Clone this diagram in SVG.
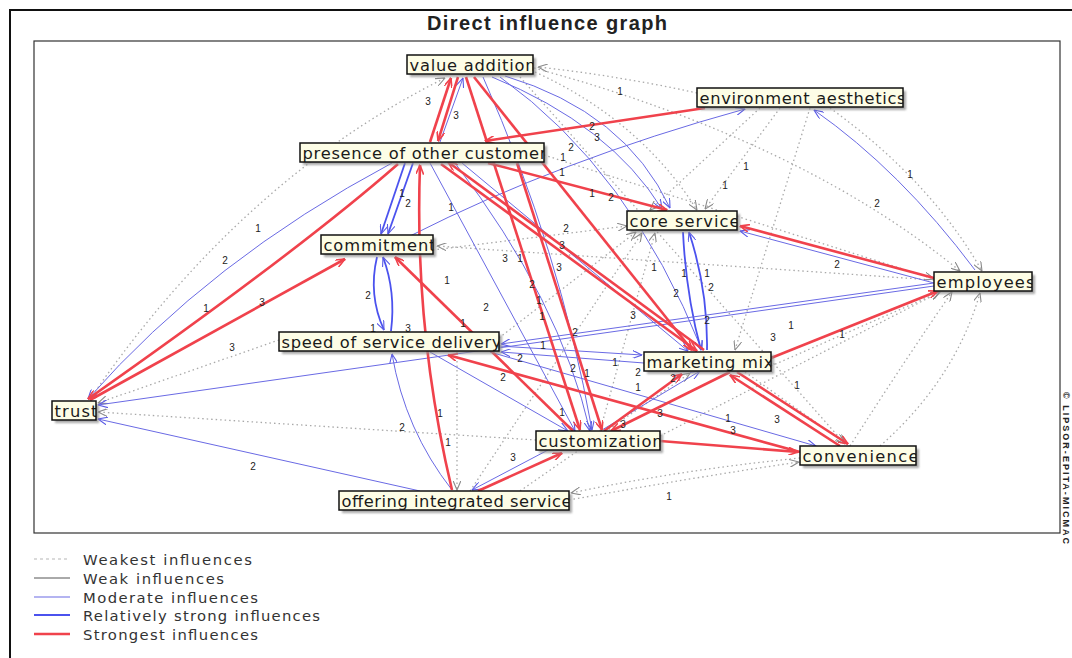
<svg xmlns="http://www.w3.org/2000/svg" width="1072" height="658" viewBox="0 0 1072 658">
<style>
  text { font-family: "Liberation Sans", Arial, sans-serif; }
  .title { font-size: 20px; font-weight: bold; fill: #222; }
  .r { fill: none; stroke: #f0424c; stroke-width: 2.6; marker-end: url(#ar); }
  .b { fill: none; stroke: #6a6ae4; stroke-width: 1; marker-end: url(#ab); }
  .bs { fill: none; stroke: #4b52ee; stroke-width: 1.8; marker-end: url(#ab); }
  .d { fill: none; stroke: #a9a9a9; stroke-width: 1.3; stroke-dasharray: 1.5 3; marker-end: url(#ag); }
  .lbl { font-size: 10px; fill: #222; text-anchor: middle; }
  .nb { fill: #fdfde6; }
  .nf { fill: none; stroke: #111; stroke-width: 1.5; }
  .sh { fill: #8c8c8c; opacity: 0.75; filter: url(#blur); }
  .nt { font-family: "DejaVu Sans", Verdana, sans-serif; font-size: 16.3px; fill: #1a1a1a; }
  .lg { font-family: "DejaVu Sans", Verdana, sans-serif; font-size: 14.8px; fill: #333; }
</style>
<defs>
  <marker id="ar" viewBox="0 0 10 8" refX="9.5" refY="4" markerWidth="10" markerHeight="8" markerUnits="userSpaceOnUse" orient="auto">
    <path d="M0,0 L9.5,4 L0,8" fill="none" stroke="#f0424c" stroke-width="1.6"/>
  </marker>
  <marker id="ab" viewBox="0 0 10 8" refX="9.5" refY="4" markerWidth="10" markerHeight="8" markerUnits="userSpaceOnUse" orient="auto">
    <path d="M0,0 L9.5,4 L0,8" fill="none" stroke="#5a5ae6" stroke-width="1.1"/>
  </marker>
  <marker id="ag" viewBox="0 0 10 8" refX="9.5" refY="4" markerWidth="10" markerHeight="8" markerUnits="userSpaceOnUse" orient="auto">
    <path d="M0,0 L9.5,4 L0,8" fill="none" stroke="#8a8a8a" stroke-width="1.1"/>
  </marker>
  <filter id="blur" x="-20%" y="-50%" width="140%" height="200%">
    <feGaussianBlur stdDeviation="1.3"/>
  </filter>
</defs>

<rect width="1072" height="658" fill="#fff"/>
<!-- outer frame and plot area -->
<rect x="10" y="10" width="1090" height="700" fill="none" stroke="#111" stroke-width="2"/>
<text class="title" x="427" y="30" textLength="240">Direct influence graph</text>
<rect x="34" y="41" width="1026" height="492" fill="none" stroke="#333" stroke-width="1.2"/>

<g id="connectors">
  <!-- weakest influences -->
  <path class="d" d="M697,93 Q620,76 538,67"/>
  <path class="d" d="M535,72 Q640,120 697,210"/>
  <path class="d" d="M534,68 Q800,140 960,271"/>
  <path class="d" d="M780,108 L705,209"/>
  <path class="d" d="M760,108 L650,210"/>
  <path class="d" d="M810,108 L735,350"/>
  <path class="d" d="M830,108 Q930,180 982,271"/>
  <path class="d" d="M90,399 Q240,180 445,78"/>
  <path class="d" d="M536,440 L98,412"/>
  <path class="d" d="M279,340 L98,403"/>
  <path class="d" d="M569,500 Q690,478 799,462"/>
  <path class="d" d="M800,458 Q680,470 571,493"/>
  <path class="d" d="M880,446 Q955,380 980,293"/>
  <path class="d" d="M850,446 Q905,360 952,292"/>
  <path class="d" d="M771,366 L940,292"/>
  <path class="d" d="M934,280 L437,246"/>
  <path class="d" d="M600,431 L655,233"/>
  <path class="d" d="M470,491 L642,233"/>
  <path class="d" d="M499,338 L636,232"/>
  <path class="d" d="M745,372 L845,443"/>
  <path class="d" d="M457,352 L457,490"/>
  <path class="d" d="M544,155 L934,279"/>
  <path class="d" d="M520,77 L845,444"/>
  <path class="d" d="M433,250 L627,226"/>
  <path class="d" d="M520,491 L690,373"/>
  <path class="d" d="M660,436 L940,292"/>

  <!-- moderate and relatively strong influences -->
  <path class="b" d="M440,142 L463,78"/>
  <path class="b" d="M492,77 Q610,125 662,209"/>
  <path class="b" d="M505,76 Q625,112 670,208"/>
  <path class="b" d="M500,77 Q630,170 702,350"/>
  <path class="b" d="M483,77 Q560,250 592,430"/>
  <path class="b" d="M410,236 Q560,160 745,109"/>
  <path class="b" d="M975,270 Q900,170 814,110"/>
  <path class="bs" d="M683,232 Q686,295 701,350"/>
  <path class="bs" d="M707,350 Q708,290 689,232"/>
  <path class="b" d="M934,283 L740,231"/>
  <path class="b" d="M934,283 L501,344"/>
  <path class="b" d="M934,286 L98,405"/>
  <path class="b" d="M499,346 L642,355"/>
  <path class="b" d="M644,363 L501,352"/>
  <path class="b" d="M490,352 L816,446"/>
  <path class="b" d="M430,352 L568,431"/>
  <path class="b" d="M452,490 Q405,430 392,354"/>
  <path class="b" d="M420,491 L98,419"/>
  <path class="b" d="M548,450 L472,490"/>
  <path class="bs" d="M377,257 Q368,295 384,330"/>
  <path class="bs" d="M391,331 Q396,292 383,257"/>
  <path class="bs" d="M405,163 L381,234"/>
  <path class="bs" d="M413,163 L388,234"/>
  <path class="b" d="M392,163 Q210,260 88,399"/>
  <path class="b" d="M602,430 L700,371"/>
  <path class="b" d="M430,163 L575,431"/>
  <path class="b" d="M455,163 Q560,300 590,431"/>
  <path class="b" d="M462,163 L688,351"/>

  <!-- strongest influences -->
  <path class="r" d="M430,142 L451,78"/>
  <path class="r" d="M458,77 L438,141"/>
  <path class="r" d="M705,108 L485,141"/>
  <path class="r" d="M466,77 L580,430"/>
  <path class="r" d="M474,77 L692,350"/>
  <path class="r" d="M488,163 L667,210"/>
  <path class="r" d="M934,278 L740,226"/>
  <path class="r" d="M441,164 L697,351"/>
  <path class="r" d="M704,350 L448,162"/>
  <path class="r" d="M517,163 L602,430"/>
  <path class="r" d="M398,164 Q300,250 88,399"/>
  <path class="r" d="M90,400 L345,259"/>
  <path class="r" d="M452,490 Q414,330 420,165"/>
  <path class="r" d="M573,431 L395,257"/>
  <path class="r" d="M800,452 L448,355"/>
  <path class="r" d="M478,491 L562,453"/>
  <path class="r" d="M604,431 L682,374"/>
  <path class="r" d="M730,372 L611,431"/>
  <path class="r" d="M840,446 L730,375"/>
  <path class="r" d="M737,372 L848,444"/>
  <path class="r" d="M660,441 L798,452"/>
  <path class="r" d="M771,358 L938,291"/>
</g>

<g id="edge-labels">
  <text class="lbl" x="620" y="95">1</text>
  <text class="lbl" x="428" y="105">3</text>
  <text class="lbl" x="456" y="119">3</text>
  <text class="lbl" x="592" y="130">2</text>
  <text class="lbl" x="597" y="141">3</text>
  <text class="lbl" x="571" y="151">2</text>
  <text class="lbl" x="563" y="161">1</text>
  <text class="lbl" x="562" y="176">1</text>
  <text class="lbl" x="746" y="170">1</text>
  <text class="lbl" x="725" y="189">1</text>
  <text class="lbl" x="910" y="178">1</text>
  <text class="lbl" x="877" y="207">2</text>
  <text class="lbl" x="592" y="197">1</text>
  <text class="lbl" x="611" y="201">2</text>
  <text class="lbl" x="402" y="197">1</text>
  <text class="lbl" x="408" y="207">2</text>
  <text class="lbl" x="451" y="211">1</text>
  <text class="lbl" x="258" y="232">1</text>
  <text class="lbl" x="225" y="264">2</text>
  <text class="lbl" x="566" y="232">2</text>
  <text class="lbl" x="562" y="249">3</text>
  <text class="lbl" x="505" y="262">3</text>
  <text class="lbl" x="520" y="262">1</text>
  <text class="lbl" x="559" y="271">3</text>
  <text class="lbl" x="654" y="271">1</text>
  <text class="lbl" x="684" y="277">1</text>
  <text class="lbl" x="707" y="277">1</text>
  <text class="lbl" x="837" y="268">2</text>
  <text class="lbl" x="447" y="284">1</text>
  <text class="lbl" x="532" y="288">2</text>
  <text class="lbl" x="711" y="291">2</text>
  <text class="lbl" x="676" y="297">2</text>
  <text class="lbl" x="368" y="299">2</text>
  <text class="lbl" x="539" y="304">1</text>
  <text class="lbl" x="262" y="306">3</text>
  <text class="lbl" x="486" y="311">2</text>
  <text class="lbl" x="206" y="312">1</text>
  <text class="lbl" x="633" y="319">3</text>
  <text class="lbl" x="542" y="320">1</text>
  <text class="lbl" x="707" y="324">2</text>
  <text class="lbl" x="463" y="327">1</text>
  <text class="lbl" x="791" y="329">1</text>
  <text class="lbl" x="373" y="332">1</text>
  <text class="lbl" x="408" y="332">3</text>
  <text class="lbl" x="575" y="336">2</text>
  <text class="lbl" x="842" y="338">1</text>
  <text class="lbl" x="773" y="341">3</text>
  <text class="lbl" x="543" y="349">1</text>
  <text class="lbl" x="232" y="351">3</text>
  <text class="lbl" x="520" y="362">2</text>
  <text class="lbl" x="615" y="366">1</text>
  <text class="lbl" x="573" y="372">2</text>
  <text class="lbl" x="638" y="376">2</text>
  <text class="lbl" x="587" y="377">1</text>
  <text class="lbl" x="503" y="381">2</text>
  <text class="lbl" x="673" y="382">2</text>
  <text class="lbl" x="638" y="391">1</text>
  <text class="lbl" x="797" y="389">1</text>
  <text class="lbl" x="440" y="417">1</text>
  <text class="lbl" x="562" y="416">1</text>
  <text class="lbl" x="660" y="417">3</text>
  <text class="lbl" x="728" y="422">1</text>
  <text class="lbl" x="777" y="423">3</text>
  <text class="lbl" x="623" y="428">3</text>
  <text class="lbl" x="402" y="431">2</text>
  <text class="lbl" x="733" y="434">3</text>
  <text class="lbl" x="448" y="446">1</text>
  <text class="lbl" x="513" y="461">3</text>
  <text class="lbl" x="253" y="470">2</text>
  <text class="lbl" x="669" y="500">1</text>
</g>

<!-- nodes: shadow, clipped label panel, frame -->
<g id="node-value-addition">
  <rect class="sh" x="410" y="58" width="126" height="19"/>
  <svg x="407" y="55" width="126" height="19"><rect class="nb" width="126" height="19"/><text class="nt" x="2.5" y="15.6" textLength="126">value addition</text></svg>
  <rect class="nf" x="407" y="55" width="126" height="19"/>
</g>
<g id="node-presence-of-other-customer">
  <rect class="sh" x="303" y="146" width="244" height="19"/>
  <svg x="300" y="143" width="244" height="19"><rect class="nb" width="244" height="19"/><text class="nt" x="2.5" y="15.6" textLength="244">presence of other customer</text></svg>
  <rect class="nf" x="300" y="143" width="244" height="19"/>
</g>
<g id="node-environment-aesthetics">
  <rect class="sh" x="700" y="91" width="206" height="19"/>
  <svg x="697" y="88" width="206" height="19"><rect class="nb" width="206" height="19"/><text class="nt" x="2.5" y="15.6" textLength="206">environment aesthetics</text></svg>
  <rect class="nf" x="697" y="88" width="206" height="19"/>
</g>
<g id="node-core-service">
  <rect class="sh" x="630" y="214" width="110" height="19"/>
  <svg x="627" y="211" width="110" height="19"><rect class="nb" width="110" height="19"/><text class="nt" x="2.5" y="15.6" textLength="110">core service</text></svg>
  <rect class="nf" x="627" y="211" width="110" height="19"/>
</g>
<g id="node-commitment">
  <rect class="sh" x="324" y="238" width="112" height="19"/>
  <svg x="321" y="235" width="112" height="19"><rect class="nb" width="112" height="19"/><text class="nt" x="2.5" y="15.6" textLength="112">commitment</text></svg>
  <rect class="nf" x="321" y="235" width="112" height="19"/>
</g>
<g id="node-employees">
  <rect class="sh" x="937" y="275" width="98" height="19"/>
  <svg x="934" y="272" width="98" height="19"><rect class="nb" width="98" height="19"/><text class="nt" x="2.5" y="15.6" textLength="98">employees</text></svg>
  <rect class="nf" x="934" y="272" width="98" height="19"/>
</g>
<g id="node-speed-of-service-delivery">
  <rect class="sh" x="282" y="335" width="220" height="19"/>
  <svg x="279" y="332" width="220" height="19"><rect class="nb" width="220" height="19"/><text class="nt" x="2.5" y="15.6" textLength="220">speed of service delivery</text></svg>
  <rect class="nf" x="279" y="332" width="220" height="19"/>
</g>
<g id="node-marketing-mix">
  <rect class="sh" x="647" y="355" width="127" height="19"/>
  <svg x="644" y="352" width="127" height="19"><rect class="nb" width="127" height="19"/><text class="nt" x="2.5" y="15.6" textLength="127">marketing mix</text></svg>
  <rect class="nf" x="644" y="352" width="127" height="19"/>
</g>
<g id="node-trust">
  <rect class="sh" x="55" y="404" width="44" height="19"/>
  <svg x="52" y="401" width="44" height="19"><rect class="nb" width="44" height="19"/><text class="nt" x="2.5" y="15.6" textLength="43">trust</text></svg>
  <rect class="nf" x="52" y="401" width="44" height="19"/>
</g>
<g id="node-customization">
  <rect class="sh" x="539" y="434" width="124" height="19"/>
  <svg x="536" y="431" width="124" height="19"><rect class="nb" width="124" height="19"/><text class="nt" x="2.5" y="15.6" textLength="124">customization</text></svg>
  <rect class="nf" x="536" y="431" width="124" height="19"/>
</g>
<g id="node-convenience">
  <rect class="sh" x="803" y="449" width="116" height="19"/>
  <svg x="800" y="446" width="116" height="19"><rect class="nb" width="116" height="19"/><text class="nt" x="2.5" y="15.6" textLength="116">convenience</text></svg>
  <rect class="nf" x="800" y="446" width="116" height="19"/>
</g>
<g id="node-offering-integrated-service">
  <rect class="sh" x="342" y="494" width="230" height="19"/>
  <svg x="339" y="491" width="230" height="19"><rect class="nb" width="230" height="19"/><text class="nt" x="2.5" y="15.6" textLength="230">offering integrated service</text></svg>
  <rect class="nf" x="339" y="491" width="230" height="19"/>
</g>

<g id="legend">
  <line x1="34" y1="559" x2="70" y2="559" stroke="#b5b5b5" stroke-width="1" stroke-dasharray="3 3"/>
  <text class="lg" x="83" y="565" textLength="169">Weakest influences</text>
  <line x1="34" y1="578" x2="70" y2="578" stroke="#555" stroke-width="1"/>
  <text class="lg" x="83" y="584" textLength="141">Weak influences</text>
  <line x1="34" y1="597" x2="70" y2="597" stroke="#6a6ae4" stroke-width="1.2"/>
  <text class="lg" x="83" y="603" textLength="175">Moderate influences</text>
  <line x1="34" y1="615" x2="70" y2="615" stroke="#4b52ee" stroke-width="2"/>
  <text class="lg" x="83" y="621" textLength="237">Relatively strong influences</text>
  <line x1="34" y1="634" x2="70" y2="634" stroke="#f0424c" stroke-width="2.6"/>
  <text class="lg" x="83" y="640" textLength="175">Strongest influences</text>
</g>

<text transform="translate(1063,392) rotate(90)" font-size="9" font-weight="bold" fill="#222" textLength="152">© LIPSOR-EPITA-MICMAC</text>
</svg>
